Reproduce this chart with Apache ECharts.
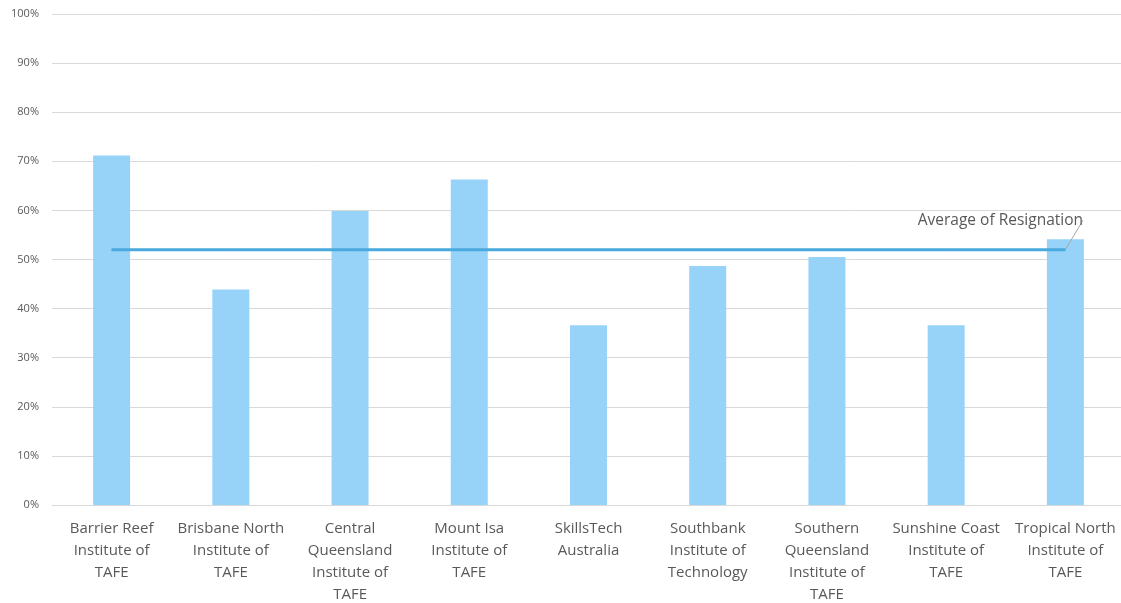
<!DOCTYPE html>
<html lang="en">
<head>
    <meta charset="UTF-8">
    <title>Resignation</title>
    <script src="https://cdn.jsdelivr.net/npm/echarts@6/dist/echarts.min.js"></script>
    <style>
        html, body { margin: 0; padding: 0; background: #fff; }
        #main { width: 1121px; height: 603px; }
    </style>
</head>
<body>
<div id="main"></div>
<script>
    // categories (line breaks as in the picture)
    var institutes = [
        'Barrier Reef\nInstitute of\nTAFE',
        'Brisbane North\nInstitute of\nTAFE',
        'Central\nQueensland\nInstitute of\nTAFE',
        'Mount Isa\nInstitute of\nTAFE',
        'SkillsTech\nAustralia',
        'Southbank\nInstitute of\nTechnology',
        'Southern\nQueensland\nInstitute of\nTAFE',
        'Sunshine Coast\nInstitute of\nTAFE',
        'Tropical North\nInstitute of\nTAFE'
    ];
    // resignation share, %
    var resignation = [71.2, 43.9, 59.9, 66.3, 36.6, 48.7, 50.5, 36.6, 54.1];
    // average line, %
    var averageOfResignation = [52.0, 52.0, 52.0, 52.0, 52.0, 52.0, 52.0, 52.0, 52.0];
    var avgLabel = 'Average of Resignation';

    var myChart = echarts.init(document.getElementById('main'));

    var avgData = averageOfResignation.map(function (v, i) {
        if (i === averageOfResignation.length - 1) {
            return {
                value: v,
                label: {
                    show: true,
                    formatter: avgLabel,
                    position: 'top',
                    color: '#595959',
                    fontSize: 15.5,
                    fontFamily: 'Open Sans'
                },
                labelLine: { show: true, lineStyle: { color: '#a6a6a6', width: 1 } }
            };
        }
        return v;
    });

    var option = {
        animation: false,
        grid: { left: 52, right: -4, top: 14, bottom: 98, outerBoundsMode: 'none' },
        xAxis: {
            type: 'category',
            data: institutes,
            axisTick: { show: false },
            axisLine: { lineStyle: { color: '#d9d9d9', width: 1 } },
            axisLabel: {
                color: '#595959',
                fontSize: 15,
                lineHeight: 22,
                fontFamily: 'Open Sans',
                margin: 13,
                interval: 0
            }
        },
        yAxis: {
            type: 'value',
            min: 0,
            max: 100,
            interval: 10,
            axisLabel: {
                formatter: '{value}%',
                color: '#595959',
                fontSize: 11,
                fontFamily: 'Open Sans',
                margin: 13
            },
            splitLine: { lineStyle: { color: '#d9d9d9', width: 1 } },
            axisLine: { show: false },
            axisTick: { show: false }
        },
        series: [
            {
                name: 'Resignation',
                type: 'bar',
                data: resignation,
                barWidth: 37,
                itemStyle: { color: '#97d3f8' }
            },
            {
                name: avgLabel,
                type: 'line',
                data: avgData,
                symbol: 'circle',
                symbolSize: 1,
                showSymbol: true,
                itemStyle: { color: '#4aa9dd' },
                lineStyle: { color: '#4aa9dd', width: 3 },
                labelLayout: { dx: -65, dy: -16 }
            }
        ]
    };

    myChart.setOption(option);
</script>
</body>
</html>
